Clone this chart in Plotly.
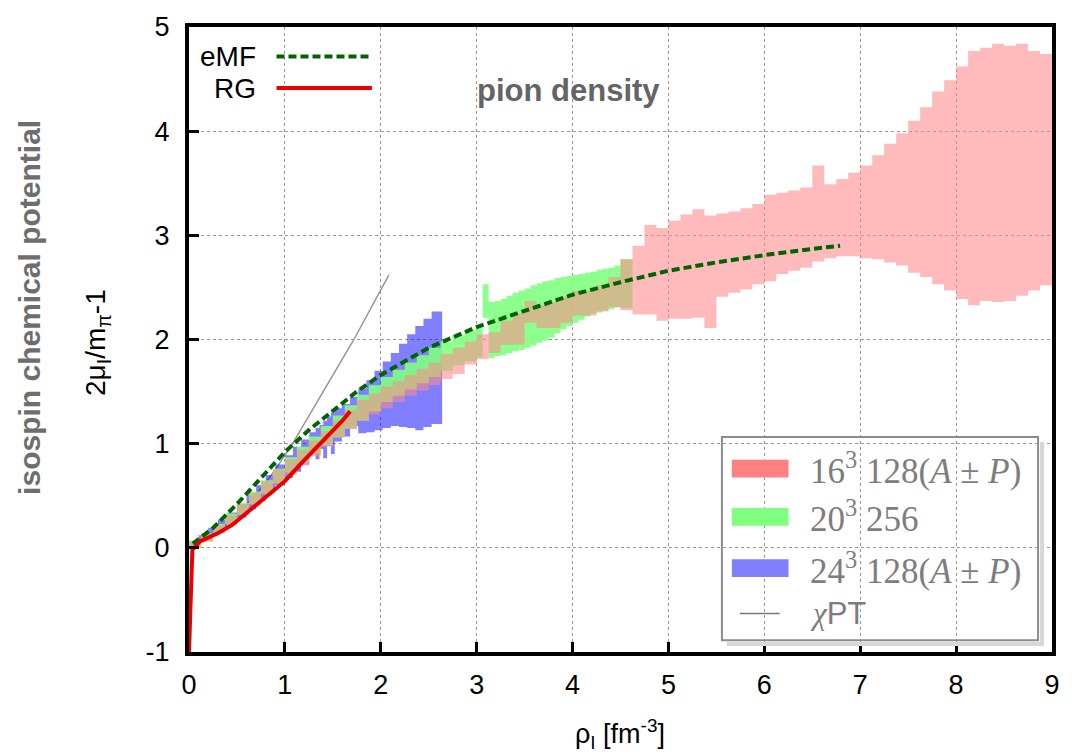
import plotly.graph_objects as go

# ---------------- data ----------------
# 16^3 128 (A±P) band: bin left edges, lower and upper bounds
red_x = [0.0, 0.125, 0.25, 0.375, 0.5, 0.625, 0.75, 0.875, 1.0, 1.125, 1.25, 1.375,
         1.5, 1.625, 1.75, 1.875, 2.0, 2.125, 2.25, 2.375, 2.5, 2.625, 2.75, 2.875,
         3.0, 3.125, 3.25, 3.375, 3.5, 3.625, 3.75, 3.875, 4.0, 4.125, 4.25, 4.375,
         4.5, 4.625, 4.75, 4.875, 5.0, 5.125, 5.25, 5.375, 5.5, 5.625, 5.75, 5.875,
         6.0, 6.125, 6.25, 6.375, 6.5, 6.625, 6.75, 6.875, 7.0, 7.125, 7.25, 7.375,
         7.5, 7.625, 7.75, 7.875, 8.0, 8.125, 8.25, 8.375, 8.5, 8.625, 8.75, 8.875]
red_end = 9.0
red_lo = [0.00, 0.06, 0.14, 0.22, 0.31, 0.41, 0.51, 0.61, 0.70, 0.79, 0.88, 0.97,
          1.06, 1.14, 1.22, 1.28, 1.34, 1.40, 1.46, 1.51, 1.56, 1.62, 1.67, 1.76,
          1.81, 1.87, 1.95, 1.95, 2.16, 2.11, 2.11, 2.16, 2.23, 2.23, 2.27, 2.31,
          2.28, 2.24, 2.24, 2.18, 2.20, 2.20, 2.21, 2.11, 2.41, 2.45, 2.48, 2.53,
          2.56, 2.63, 2.66, 2.69, 2.75, 2.78, 2.80, 2.80, 2.78, 2.77, 2.74, 2.71,
          2.64, 2.60, 2.53, 2.47, 2.39, 2.33, 2.37, 2.36, 2.37, 2.42, 2.47, 2.52]
red_hi = [0.05, 0.13, 0.22, 0.31, 0.42, 0.53, 0.64, 0.75, 0.85, 0.94, 1.03, 1.12,
          1.22, 1.32, 1.42, 1.48, 1.55, 1.60, 1.66, 1.72, 1.78, 1.86, 1.92, 1.98,
          2.05, 2.07, 2.18, 2.25, 2.37, 2.33, 2.36, 2.41, 2.47, 2.47, 2.52, 2.60,
          2.77, 2.90, 3.10, 3.07, 3.14, 3.20, 3.25, 3.19, 3.21, 3.23, 3.26, 3.30,
          3.39, 3.41, 3.43, 3.46, 3.67, 3.49, 3.54, 3.60, 3.67, 3.77, 3.88, 3.98,
          4.10, 4.23, 4.38, 4.49, 4.62, 4.77, 4.80, 4.84, 4.82, 4.84, 4.77, 4.74]

# 20^3 256 band
green_x = [0.0, 0.125, 0.25, 0.375, 0.5, 0.625, 0.75, 0.875, 1.0, 1.125, 1.25, 1.375,
           1.5, 1.625, 1.75, 1.875, 2.0, 2.125, 2.25, 2.375, 2.5, 2.625, 2.75, 2.875,
           3.0, 3.0625, 3.125, 3.1875, 3.25, 3.3125, 3.375, 3.4375, 3.5, 3.5625, 3.625,
           3.6875, 3.75, 3.8125, 3.875, 3.9375, 4.0, 4.0625, 4.125, 4.1875, 4.25,
           4.3125, 4.375, 4.4375, 4.5]
green_end = 4.625
green_lo = [0.00, 0.06, 0.14, 0.23, 0.32, 0.42, 0.52, 0.62, 0.72, 0.81, 0.90, 0.98,
            1.06, 1.14, 1.22, 1.31, 1.40, 1.46, 1.52, 1.58, 1.64, 1.70, 1.75, 1.79,
            1.83, 2.21, 1.82, 1.84, 1.85, 1.87, 1.89, 1.90, 1.92, 1.94, 1.97,
            1.99, 2.02, 2.06, 2.10, 2.13, 2.16, 2.19, 2.22, 2.25, 2.26,
            2.28, 2.29, 2.31, 2.30]
green_hi = [0.07, 0.14, 0.23, 0.33, 0.43, 0.54, 0.65, 0.76, 0.87, 0.97, 1.07, 1.17,
            1.27, 1.37, 1.47, 1.56, 1.64, 1.71, 1.78, 1.85, 1.92, 1.98, 2.04, 2.09,
            2.13, 2.53, 2.36, 2.37, 2.39, 2.42, 2.45, 2.47, 2.49, 2.52, 2.54,
            2.56, 2.57, 2.59, 2.60, 2.61, 2.62, 2.63, 2.64, 2.65, 2.67,
            2.68, 2.69, 2.71, 2.77]

# 24^3 128 (A±P) band
blue_x = [0.0, 0.1, 0.2, 0.3, 0.4, 0.5, 0.6, 0.7, 0.8, 0.9, 1.0, 1.085, 1.17,
          1.255, 1.32, 1.36, 1.40, 1.44, 1.48, 1.52, 1.595, 1.68, 1.765, 1.85,
          1.935, 2.02, 2.105, 2.19, 2.275, 2.36, 2.445, 2.53]
blue_end = 2.64
blue_lo = [0.00, 0.07, 0.12, 0.17, 0.23, 0.29, 0.37, 0.45, 0.53, 0.60, 0.67, 0.73, 0.80,
           0.90, 0.85, 0.95, 0.86, 0.98, 0.90, 1.02, 1.07, 1.17, 1.10, 1.11,
           1.13, 1.15, 1.17, 1.16, 1.15, 1.13, 1.16, 1.19]
blue_hi = [0.06, 0.12, 0.19, 0.27, 0.34, 0.42, 0.51, 0.60, 0.70, 0.80, 0.89, 0.97, 1.04,
           1.11, 1.15, 1.18, 1.22, 1.26, 1.30, 1.34, 1.38, 1.45, 1.53, 1.61,
           1.70, 1.79, 1.87, 1.96, 2.05, 2.13, 2.20, 2.27]

# eMF curve
emf_x = [0.04, 0.25, 0.5, 0.75, 1.0, 1.25, 1.5, 1.75, 2.0, 2.5, 3.0, 3.5, 4.0, 4.5,
         5.0, 5.5, 6.0, 6.5, 6.79]
emf_y = [0.04, 0.19, 0.42, 0.67, 0.92, 1.13, 1.32, 1.50, 1.66, 1.92, 2.12, 2.27, 2.43,
         2.55, 2.66, 2.74, 2.81, 2.87, 2.90]

# RG curve
rg_x = [0.0, 0.035, 0.11, 0.2, 0.3, 0.45, 0.65, 0.8, 0.93, 1.0, 1.17, 1.34, 1.5, 1.6, 1.68]
rg_y = [-1.0, -0.02, 0.06, 0.10, 0.14, 0.22, 0.37, 0.49, 0.59, 0.64, 0.81, 0.97, 1.13,
        1.22, 1.31]

# chiral perturbation theory
chpt_x = [0.0, 0.36, 0.69, 0.90, 1.08, 1.40, 1.72, 2.085]
chpt_y = [0.0, 0.20, 0.50, 0.75, 1.00, 1.50, 2.00, 2.62]

legend_labels = ["16<sup>3</sup> 128(<i>A</i> ± <i>P</i>)", "20<sup>3</sup> 256",
                 "24<sup>3</sup> 128(<i>A</i> ± <i>P</i>)"]
legend_colors = ["rgb(255,128,128)", "rgb(128,255,128)", "rgb(128,128,255)"]

x_ticks = [0, 1, 2, 3, 4, 5, 6, 7, 8, 9]
x_ticktext = ["0", "1", "2", "3", "4", "5", "6", "7", "8", "9"]
y_ticks = [-1, 0, 1, 2, 3, 4, 5]
y_ticktext = ["-1", "0", "1", "2", "3", "4", "5"]

# ---------------- figure ----------------
W, H = 1072, 753
L, R, T, B = 189, 15, 18, 101
PW, PH = W - L - R, H - T - B


def px(x):
    return (x - L) / PW


def py(y):
    return (H - B - y) / PH


fig = go.Figure()

fig.add_trace(go.Scatter(x=chpt_x, y=chpt_y, mode="lines",
                         line=dict(color="rgb(150,150,150)", width=1.5),
                         showlegend=False))


def add_band(xs, end, lo, hi, color):
    xx = list(xs) + [end]
    fig.add_trace(go.Scatter(x=xx, y=list(lo) + [lo[-1]], mode="lines",
                             line=dict(width=0, shape="hv"), showlegend=False,
                             hoverinfo="skip"))
    fig.add_trace(go.Scatter(x=xx, y=list(hi) + [hi[-1]], mode="lines",
                             line=dict(width=0, shape="hv"), fill="tonexty",
                             fillcolor=color, showlegend=False, hoverinfo="skip"))


add_band(blue_x, blue_end, blue_lo, blue_hi, "rgba(0,0,255,0.5)")
add_band(green_x, green_end, green_lo, green_hi, "rgba(128,255,128,0.9)")
add_band(red_x, red_end, red_lo, red_hi, "rgba(255,138,138,0.58)")

fig.add_trace(go.Scatter(x=emf_x, y=emf_y, mode="lines",
                         line=dict(color="rgb(0,100,0)", width=4, dash="8px,4px"),
                         showlegend=False))
fig.add_trace(go.Scatter(x=rg_x, y=rg_y, mode="lines",
                         line=dict(color="rgb(235,0,0)", width=4),
                         showlegend=False))

shapes = []
annotations = []

# top-left key
annotations.append(dict(x=px(258), y=py(48), xref="paper", yref="paper", text="eMF",
                        showarrow=False, xanchor="right", yanchor="middle",
                        font=dict(family="Liberation Sans", size=28, color="black")))
annotations.append(dict(x=px(258), y=py(80), xref="paper", yref="paper", text="RG",
                        showarrow=False, xanchor="right", yanchor="middle",
                        font=dict(family="Liberation Sans", size=28, color="black")))
shapes.append(dict(type="line", xref="paper", yref="paper", x0=px(277), x1=px(373),
                   y0=py(48), y1=py(48),
                   line=dict(color="rgb(0,100,0)", width=4, dash="8px,4px")))
shapes.append(dict(type="line", xref="paper", yref="paper", x0=px(277), x1=px(373),
                   y0=py(80), y1=py(80), line=dict(color="rgb(235,0,0)", width=4)))

annotations.append(dict(x=px(571), y=py(82), xref="paper", yref="paper",
                        text="<b>pion density</b>", showarrow=False,
                        xanchor="center", yanchor="middle",
                        font=dict(family="Liberation Sans", size=31,
                                  color="rgb(100,100,100)")))

# bottom-right key box with shadow
shapes.append(dict(type="line", xref="paper", yref="paper", x0=px(1047), x1=px(1047),
                   y0=py(439), y1=py(644), line=dict(color="rgb(215,215,215)", width=4)))
shapes.append(dict(type="line", xref="paper", yref="paper", x0=px(730), x1=px(1049),
                   y0=py(644), y1=py(644), line=dict(color="rgb(215,215,215)", width=4)))
shapes.append(dict(type="rect", xref="paper", yref="paper", x0=px(725), x1=px(1043),
                   y0=py(640), y1=py(434), line=dict(color="rgb(140,140,140)", width=2)))

row_y = [466, 515, 567]
for lab, col, ry in zip(legend_labels, legend_colors, row_y):
    shapes.append(dict(type="rect", xref="paper", yref="paper", x0=px(735), x1=px(792),
                       y0=py(ry + 9), y1=py(ry - 9), fillcolor=col,
                       line=dict(width=0)))
    annotations.append(dict(x=px(812), y=py(ry), xref="paper", yref="paper", text=lab,
                            showarrow=False, xanchor="left", yanchor="middle",
                            font=dict(family="Liberation Serif", size=35,
                                      color="rgb(125,125,125)")))
shapes.append(dict(type="line", xref="paper", yref="paper", x0=px(743), x1=px(783),
                   y0=py(613), y1=py(613), line=dict(color="rgb(120,120,120)", width=1.5)))
annotations.append(dict(x=px(812), y=py(613), xref="paper", yref="paper",
                        text="<i><span style='font-family:Liberation Serif'>χ</span></i>PT",
                        showarrow=False, xanchor="left", yanchor="middle",
                        font=dict(family="Liberation Sans", size=31,
                                  color="rgb(125,125,125)")))

# axis titles
annotations.append(dict(x=px(622), y=py(735), xref="paper", yref="paper",
                        text="ρ<sub>I</sub> [fm<sup>-3</sup>]", showarrow=False,
                        xanchor="center", yanchor="middle",
                        font=dict(family="Liberation Sans", size=27, color="black")))
annotations.append(dict(x=px(29), y=py(302), xref="paper", yref="paper",
                        text="<b>isospin chemical potential</b>", showarrow=False,
                        textangle=-90, xanchor="center", yanchor="middle",
                        font=dict(family="Liberation Sans", size=30,
                                  color="rgb(110,110,110)")))
annotations.append(dict(x=px(97), y=py(338), xref="paper", yref="paper",
                        text="2μ<sub>I</sub>/m<sub>π</sub>-1", showarrow=False,
                        textangle=-90, xanchor="center", yanchor="middle",
                        font=dict(family="Liberation Sans", size=28, color="black")))

axis_common = dict(showgrid=True, gridcolor="rgb(150,150,150)", griddash="dot",
                   gridwidth=1, zeroline=False, showline=True, linecolor="black",
                   linewidth=4, mirror=True, ticks="inside", ticklen=10, tickwidth=3,
                   tickcolor="black",
                   tickfont=dict(family="Liberation Sans", size=27, color="black"))

fig.update_layout(
    width=W, height=H,
    margin=dict(l=L, r=R, t=T, b=B),
    paper_bgcolor="white", plot_bgcolor="white",
    showlegend=False,
    xaxis=dict(range=[0, 9], tickvals=x_ticks, ticktext=x_ticktext,
               ticklabelstandoff=6, **axis_common),
    yaxis=dict(range=[-1, 5], tickvals=y_ticks, ticktext=y_ticktext,
               ticklabelstandoff=10, **axis_common),
    shapes=shapes, annotations=annotations,
)

fig.write_html("out.html")
